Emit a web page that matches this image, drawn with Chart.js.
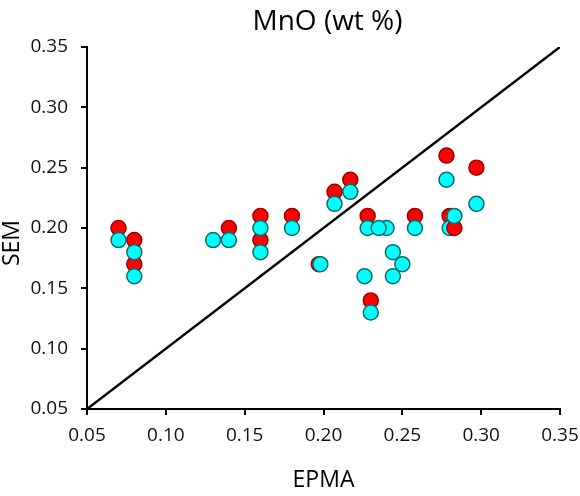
<!DOCTYPE html>
<html>
<head>
<meta charset="utf-8">
<title>MnO (wt %)</title>
<script src="https://cdn.jsdelivr.net/npm/chart.js@4.4.1/dist/chart.umd.min.js"></script>
<style>
    html, body { margin: 0; padding: 0; background: #fff; }
    #box { width: 580px; height: 496px; position: relative; }
</style>
</head>
<body>
<div id="box"><canvas id="graficoMnO"></canvas></div>
<script>
// MnO: EPMA (x) vs SEM (y), two sets of SEM measurements
var redEpma = [0.07, 0.08, 0.08, 0.14, 0.16, 0.16, 0.18, 0.197, 0.207, 0.217, 0.228, 0.23, 0.258, 0.278, 0.28, 0.297];
var redSem  = [0.20, 0.19, 0.17, 0.20, 0.21, 0.19, 0.21, 0.17,  0.23,  0.24,  0.21,  0.14, 0.21,  0.26,  0.21, 0.25];

var cyanEpma = [0.07, 0.08, 0.08, 0.13, 0.14, 0.16, 0.16, 0.18, 0.198, 0.207, 0.217, 0.226, 0.228, 0.23, 0.24, 0.235, 0.244, 0.25, 0.244, 0.258, 0.278, 0.28, 0.297];
var cyanSem  = [0.19, 0.18, 0.16, 0.19, 0.19, 0.20, 0.18, 0.20, 0.17,  0.22,  0.23,  0.16,  0.20,  0.13, 0.20, 0.20,  0.18,  0.17, 0.16,  0.20,  0.24,  0.20, 0.22];

// last pair near 0.28 is drawn over the rest
var topRedEpma = [0.283];
var topRedSem = [0.20];
var topCyanEpma = [0.283];
var topCyanSem = [0.21];

// 1:1 line
var lineEpma = [0.05, 0.35];
var lineSem = [0.05, 0.35];

var tickValues = [0.05, 0.10, 0.15, 0.20, 0.25, 0.30, 0.35];

var fonte = "'Open Sans', 'DejaVu Sans', sans-serif";

function pontos(xs, ys) {
    return xs.map(function (x, i) { return { x: x, y: ys[i] }; });
}

function serie(xs, ys, cor, borda, ordem) {
    return {
        data: pontos(xs, ys),
        backgroundColor: cor,
        borderColor: borda,
        borderWidth: 1.5,
        pointRadius: 7.5,
        pointHoverRadius: 7.5,
        order: ordem
    };
}

// chart title and rotated y title, drawn on the canvas
var titulos = {
    id: 'titulos',
    afterDraw: function (chart) {
        var ctx = chart.ctx;
        var area = chart.chartArea;
        ctx.save();
        ctx.fillStyle = '#000';
        ctx.textAlign = 'center';
        ctx.textBaseline = 'middle';
        ctx.font = '28px ' + fonte;
        ctx.fillText('MnO (wt %)', (area.left + area.right) / 2 + 4, 22);
        ctx.translate(12, 243);
        ctx.rotate(-Math.PI / 2);
        ctx.font = '23px ' + fonte;
        ctx.fillText('SEM', 0, 0);
        ctx.restore();
    }
};

var eixo = {
    type: 'linear',
    min: 0.05,
    max: 0.35,
    afterBuildTicks: function (scale) {
        scale.ticks = tickValues.map(function (v) { return { value: v }; });
    },
    ticks: {
        color: '#111',
        font: { size: 19, family: fonte },
        callback: function (v) { return v.toFixed(2); }
    },
    grid: {
        display: true,
        drawOnChartArea: false,
        drawTicks: true,
        tickLength: 6,
        color: '#000',
        lineWidth: 2
    },
    border: { display: true, color: '#000', width: 2 }
};

var eixoX = Object.assign({}, eixo, {
    position: 'bottom',
    ticks: Object.assign({}, eixo.ticks, { padding: 9, maxRotation: 0 }),
    title: {
        display: true,
        text: 'EPMA',
        color: '#000',
        font: { size: 23, family: fonte },
        padding: { top: 0, bottom: 2 }
    },
    afterFit: function (scale) {
        scale.height = 87;
        // label overflow is covered by the layout padding
        scale.paddingLeft = 0;
        scale.paddingRight = 0;
    }
});

var eixoY = Object.assign({}, eixo, {
    position: 'left',
    ticks: Object.assign({}, eixo.ticks, { padding: 13 }),
    afterFit: function (scale) {
        scale.width = 87;
        scale.paddingTop = 0;
        scale.paddingBottom = 0;
    }
});

new Chart(document.getElementById('graficoMnO').getContext('2d'), {
    type: 'scatter',
    data: {
        datasets: [
            serie(topCyanEpma, topCyanSem, '#00ffff', '#0e6a6a', 1),
            serie(topRedEpma, topRedSem, '#ff0000', '#9c0000', 2),
            serie(cyanEpma, cyanSem, '#00ffff', '#0e6a6a', 3),
            serie(redEpma, redSem, '#ff0000', '#9c0000', 4),
            {
                type: 'line',
                data: pontos(lineEpma, lineSem),
                borderColor: '#000',
                borderWidth: 2.5,
                pointRadius: 0,
                fill: false,
                order: 10
            }
        ]
    },
    options: {
        responsive: true,
        maintainAspectRatio: false,
        animation: false,
        layout: { padding: { top: 47, right: 20, left: 0, bottom: 0 } },
        plugins: {
            legend: { display: false },
            tooltip: { enabled: false },
            title: { display: false }
        },
        scales: { x: eixoX, y: eixoY }
    },
    plugins: [titulos]
});
</script>
</body>
</html>
